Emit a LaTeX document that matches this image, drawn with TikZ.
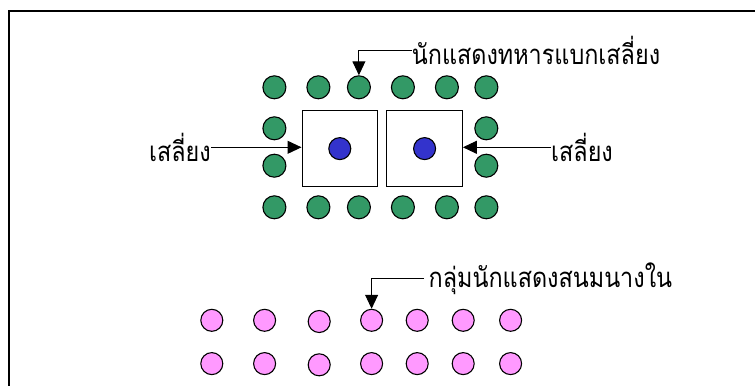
\documentclass[tikz,border=0pt]{standalone}
\usepackage{fontspec}
\newfontfamily\thaifont[Script=Thai,FakeStretch=0.85]{Loma}
\usetikzlibrary{arrows.meta}
\definecolor{soldiergreen}{RGB}{51,153,102}
\definecolor{riderblue}{RGB}{51,51,204}
\definecolor{ladypink}{RGB}{255,153,255}
\tikzstyle{soldier} = [circle, draw=black, line width=1.1bp, fill=soldiergreen, minimum size=23bp, inner sep=0pt]
\tikzstyle{rider} = [circle, draw=black, line width=1.1bp, fill=riderblue, minimum size=22bp, inner sep=0pt]
\tikzstyle{lady} = [circle, draw=black, line width=1.1bp, fill=ladypink, minimum size=22bp, inner sep=0pt]
\tikzstyle{seat} = [rectangle, draw=black, line width=1.1bp, minimum width=75.5bp, minimum height=76bp]
\tikzstyle{thaitext} = [inner sep=0pt, font=\thaifont\fontsize{27.5bp}{30bp}\selectfont]
\tikzstyle{arrow} = [-{Triangle[length=14bp,width=13bp]}, line width=1bp]

\begin{document}
\begin{tikzpicture}[x=1bp, y=-1bp, node distance=44bp]
\useasboundingbox (0,0) rectangle (755,385);
\clip (0,0) rectangle (755,385);
%外框
\draw[line width=2bp] (8.7,10.7) rectangle (780,410);
%轿子
\node[seat] at (339.8,148.6) (box1) {};
\node[seat, right of = box1, node distance=84.8bp] (box2) {};
\node[rider] at (box1) (r1) {};
\node[rider] at (box2) (r2) {};
%士兵
\node[soldier] at (274.4,87.3) (gt1) {};
\node[soldier, right of = gt1] (gt2) {};
\node[soldier, right of = gt2, xshift=-3.5bp] (gt3) {};
\node[soldier, right of = gt3] (gt4) {};
\node[soldier, right of = gt4] (gt5) {};
\node[soldier, right of = gt5, xshift=-4.5bp] (gt6) {};
\node[soldier] at (274.4,128.3) (gl1) {};
\node[soldier, below of = gl1, node distance=37.4bp] (gl2) {};
\node[soldier] at (486.3,128.3) (gr1) {};
\node[soldier, below of = gr1, node distance=37.4bp] (gr2) {};
\node[soldier] at (274.4,207.3) (gb1) {};
\node[soldier, right of = gb1] (gb2) {};
\node[soldier, right of = gb2, xshift=-3.5bp] (gb3) {};
\node[soldier, right of = gb3] (gb4) {};
\node[soldier, right of = gb4] (gb5) {};
\node[soldier, right of = gb5, xshift=-4.5bp] (gb6) {};
%宫女
\node[lady] at (211.8,320.3) (pa1) {};
\node[lady, right of = pa1, node distance=52.8bp] (pa2) {};
\node[lady, right of = pa2, node distance=54.6bp, yshift=-1.2bp] (pa3) {};
\node[lady, right of = pa3, node distance=52.4bp, yshift=1.2bp] (pa4) {};
\node[lady, right of = pa4, node distance=45.6bp] (pa5) {};
\node[lady, right of = pa5, node distance=46bp] (pa6) {};
\node[lady, right of = pa6, node distance=47.4bp] (pa7) {};
\node[lady, below of = pa1, node distance=43.3bp] (pb1) {};
\node[lady, below of = pa2, node distance=43.3bp] (pb2) {};
\node[lady, below of = pa3, node distance=43.3bp] (pb3) {};
\node[lady, below of = pa4, node distance=43.3bp] (pb4) {};
\node[lady, below of = pa5, node distance=43.3bp] (pb5) {};
\node[lady, below of = pa6, node distance=43.3bp] (pb6) {};
\node[lady, below of = pa7, node distance=43.3bp] (pb7) {};
%标注
\node[thaitext, anchor=east] at (211,147.3) (seatl) {เสลี่ยง};
\node[thaitext, anchor=west] at (551,147.3) (seatr) {เสลี่ยง};
\node[thaitext, anchor=west] at (411.7,50) (soldiers) {นักแสดงทหารแบกเสลี่ยง};
\node[thaitext, anchor=west, inner xsep=4.5bp] at (424,278.3) (ladies) {กลุ่มนักแสดงสนมนางใน};
%连线
\draw [arrow] (seatl.east) -- (seatl.east -| box1.west);
\draw [arrow] (seatr.west) -- (seatr.west -| box2.east);
\draw [arrow] (soldiers.west) -| (gt3.north);
\draw [arrow] (ladies.west) -| (pa4.north);
\end{tikzpicture}
\end{document}
